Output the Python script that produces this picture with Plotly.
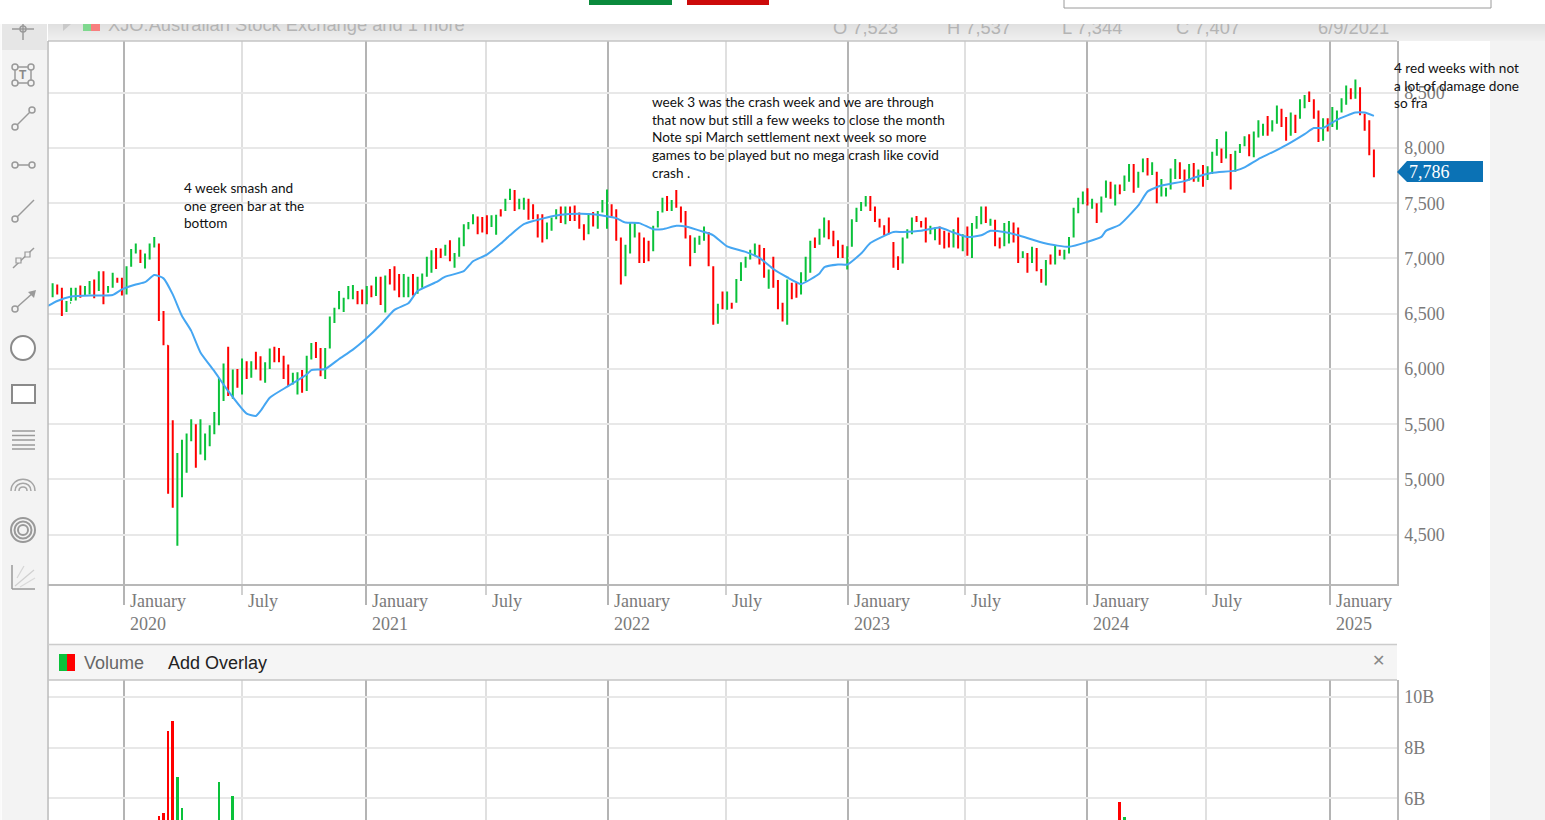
import pandas as pd
import plotly.graph_objects as go

W, H = 1545, 820

# weekly bars, XJO
first_week = "2019-09-16"
bar_high = [
    6775, 6765, 6735, 6615, 6735, 6735, 6755, 6750, 6795, 6810, 6885, 6885, 6750, 6870, 6825, 6825, 6930, 7085, 7135, 7080,
    7045, 7135, 7195, 7135, 6525, 6215, 5535, 5240, 5360, 5415, 5545, 5500, 5545, 5415, 5490, 5610, 5920, 6050, 6200, 5995,
    6000, 6095, 6070, 6070, 6155, 6115, 6060, 6185, 6200, 6190, 6120, 6040, 5965, 5970, 5990, 6120, 6235, 6245, 6190, 6190,
    6475, 6555, 6705, 6645, 6750, 6760, 6705, 6720, 6750,
    6755, 6835, 6835, 6845, 6905, 6930, 6860, 6860, 6835, 6860, 6835, 6865, 7015, 7075, 7095, 7090, 7125, 7165, 7050, 7190,
    7310, 7330, 7400, 7380, 7375, 7390, 7390, 7395, 7445, 7540, 7630, 7620, 7540, 7550, 7540, 7490, 7400, 7400, 7325, 7370,
    7445, 7470, 7470, 7470, 7480, 7415, 7310, 7410, 7420, 7430, 7530, 7625, 7490, 7445, 7190, 7125, 7330, 7330, 7235, 7190,
    7160, 7295, 7430, 7550, 7565, 7530, 7620, 7470, 7430, 7210, 7190, 7205, 7290, 7240, 6930, 6590, 6700, 6700,
    6600, 6815, 6965, 7015, 7080, 7135, 7125, 7095, 6900, 7015, 6805, 6600, 6810, 6780, 6780, 6875, 7015, 7160, 7190, 7270,
    7370, 7345, 7250, 7165, 7125, 7110, 7355, 7460, 7510, 7565, 7565, 7470, 7360, 7300, 7370, 7150, 7020, 7190, 7265, 7370,
    7385, 7340, 7370, 7295, 7280, 7290, 7250, 7235, 7265, 7370, 7220, 7290, 7320, 7385, 7470, 7470, 7360, 7350, 7190, 7320,
    7340, 7325, 7280, 7065, 7050, 7105, 7095, 6905, 6985, 7035, 7120, 7080, 7080,
    7195, 7460, 7550, 7605, 7635, 7540, 7500, 7560, 7705, 7695, 7670, 7670, 7750, 7855, 7855, 7785, 7905, 7910, 7870, 7785,
    7720, 7640, 7815, 7900, 7870, 7805, 7855, 7865, 7805, 7845, 7835, 7965, 8080, 7995, 8150, 7945, 7975, 8035, 8105, 8125,
    8150, 8250, 8220, 8290, 8250, 8385, 8355, 8280, 8320, 8300, 8440, 8480, 8510, 8440, 8340, 8270, 8270, 8370, 8340, 8450,
    8565, 8540, 8620, 8550, 8310, 8250, 7985,
]
bar_low = [
    6650, 6675, 6480, 6515, 6615, 6620, 6645, 6660, 6675, 6640, 6705, 6585, 6690, 6735, 6780, 6665, 6675, 6925, 7045, 6960,
    6910, 6990, 7100, 6435, 6215, 4870, 4745, 4400, 4840, 5060, 5345, 5105, 5225, 5175, 5300, 5410, 5490, 5710, 5755, 5730,
    5830, 5770, 5910, 5920, 5995, 5895, 5875, 6000, 6060, 6060, 5910, 5845, 5860, 5770, 5785, 5800, 6085, 6100, 5935, 5910,
    6185, 6415, 6540, 6515, 6630, 6630, 6585, 6585, 6585,
    6650, 6660, 6580, 6510, 6765, 6710, 6650, 6650, 6650, 6665, 6680, 6735, 6835, 6870, 6905, 7005, 7025, 6975, 6915, 7015,
    7110, 7265, 7310, 7220, 7235, 7220, 7285, 7215, 7380, 7430, 7530, 7430, 7445, 7440, 7350, 7355, 7190, 7145, 7175, 7250,
    7355, 7320, 7310, 7340, 7340, 7270, 7165, 7220, 7290, 7270, 7415, 7270, 7380, 7160, 6765, 6840, 7045, 7190, 6960, 6960,
    6975, 7065, 7280, 7415, 7430, 7430, 7460, 7325, 7180, 6930, 7050, 7125, 7160, 6930, 6400, 6410, 6540, 6535,
    6545, 6600, 6795, 6915, 6990, 7020, 6945, 6825, 6725, 6735, 6540, 6430, 6400, 6630, 6645, 6675, 6795, 6870, 7095, 7125,
    7190, 7175, 7110, 7005, 7005, 6900, 7105, 7330, 7430, 7470, 7430, 7330, 7280, 7210, 7220, 6915, 6895, 6955, 7180, 7220,
    7330, 7280, 7145, 7220, 7165, 7125, 7090, 7100, 7100, 7090, 7065, 7025, 7005, 7270, 7310, 7320, 7295, 7110, 7090, 7110,
    7135, 7145, 6960, 7005, 6870, 6960, 6885, 6780, 6755, 6945, 6945, 7025, 6990,
    7045, 7190, 7410, 7490, 7480, 7450, 7320, 7415, 7550, 7540, 7480, 7580, 7610, 7695, 7595, 7640, 7780, 7750, 7755, 7500,
    7560, 7560, 7625, 7720, 7720, 7595, 7705, 7695, 7695, 7650, 7710, 7765, 7930, 7865, 7905, 7625, 7785, 7955, 8015, 7925,
    7915, 8095, 8110, 8110, 8150, 8220, 8190, 8065, 8110, 8135, 8265, 8360, 8415, 8265, 8055, 8065, 8150, 8190, 8165, 8320,
    8390, 8440, 8445, 8295, 8155, 7935, 7735,
]
bar_open = [
    6680, 6745, 6700, 6530, 6600, 6650, 6720, 6670, 6700, 6770, 6720, 6850, 6700, 6745, 6815, 6790, 6700, 6935, 7060, 7070,
    6980, 7010, 7110, 7120, 6500, 6210, 5520, 4780, 4860, 5090, 5380, 5480, 5250, 5200, 5320, 5440, 5510, 5740, 6000, 5790,
    5970, 5800, 6040, 5940, 6120, 6090, 5900, 6020, 6170, 6160, 6100, 6010, 5880, 5800, 5960, 5820, 6100, 6220, 6160, 5940,
    6200, 6430, 6560, 6535, 6650, 6650, 6680, 6695, 6610,
    6730, 6680, 6810, 6540, 6880, 6905, 6835, 6670, 6680, 6835, 6700, 6750, 6850, 6900, 7070, 7070, 7040, 7140, 6940, 7030,
    7130, 7275, 7320, 7360, 7350, 7370, 7300, 7240, 7430, 7440, 7540, 7600, 7460, 7455, 7520, 7470, 7380, 7380, 7195, 7270,
    7370, 7450, 7330, 7450, 7460, 7395, 7290, 7240, 7400, 7290, 7430, 7300, 7470, 7420, 7170, 6870, 7070, 7210, 7210, 7170,
    7140, 7085, 7300, 7430, 7540, 7450, 7600, 7450, 7410, 7190, 7070, 7140, 7175, 7220, 6915, 6430, 6680, 6560,
    6590, 6615, 6810, 6930, 7005, 7035, 7105, 7075, 6745, 6995, 6785, 6580, 6425, 6760, 6760, 6695, 6815, 6890, 7170, 7145,
    7210, 7325, 7230, 7145, 7105, 6925, 7125, 7345, 7445, 7485, 7545, 7450, 7345, 7285, 7350, 7130, 7000, 6975, 7195, 7240,
    7375, 7330, 7350, 7235, 7185, 7270, 7230, 7215, 7120, 7350, 7085, 7270, 7025, 7285, 7330, 7450, 7310, 7330, 7175, 7130,
    7155, 7305, 7260, 7020, 7030, 6980, 7075, 6890, 6775, 7020, 6965, 7070, 7005,
    7060, 7210, 7430, 7510, 7615, 7465, 7480, 7435, 7565, 7675, 7500, 7655, 7630, 7715, 7835, 7660, 7800, 7890, 7775, 7765,
    7580, 7575, 7645, 7740, 7850, 7785, 7725, 7845, 7715, 7825, 7730, 7785, 7950, 7975, 7925, 7925, 7805, 7970, 8030, 8105,
    7935, 8115, 8130, 8270, 8165, 8240, 8335, 8260, 8130, 8280, 8285, 8380, 8495, 8420, 8320, 8085, 8255, 8210, 8185, 8340,
    8410, 8525, 8465, 8530, 8295, 8230, 7960,
]
bar_close = [
    6745, 6695, 6520, 6590, 6700, 6710, 6670, 6725, 6770, 6670, 6850, 6640, 6735, 6840, 6790, 6690, 6900, 7060, 7110, 6985,
    7020, 7110, 7170, 6450, 6240, 4910, 4770, 5180, 5320, 5380, 5520, 5130, 5500, 5390, 5460, 5580, 5880, 6010, 5790, 5960,
    5860, 6060, 5940, 6040, 6020, 5920, 6030, 6160, 6090, 6090, 5940, 5870, 5940, 5950, 5810, 6090, 6210, 6130, 5950, 6170,
    6450, 6530, 6680, 6620, 6725, 6735, 6610, 6610, 6725,
    6675, 6810, 6600, 6820, 6790, 6735, 6670, 6835, 6810, 6690, 6810, 6845, 6990, 7040, 6930, 7025, 7100, 7000, 7025, 7165,
    7285, 7315, 7385, 7240, 7255, 7240, 7370, 7370, 7395, 7520, 7610, 7450, 7525, 7535, 7370, 7375, 7210, 7170, 7300, 7350,
    7430, 7340, 7450, 7360, 7365, 7290, 7185, 7385, 7310, 7410, 7510, 7500, 7400, 7180, 6860, 7090, 7300, 7305, 6980, 6985,
    7000, 7270, 7410, 7530, 7450, 7510, 7480, 7345, 7200, 6950, 7170, 7190, 7270, 6950, 6430, 6565, 6560, 6680,
    6560, 6795, 6945, 7000, 7065, 7120, 6965, 6845, 6880, 6755, 6560, 6450, 6790, 6650, 6665, 6855, 6995, 7140, 7115, 7250,
    7350, 7195, 7130, 7025, 7025, 7090, 7335, 7440, 7495, 7550, 7450, 7350, 7295, 7225, 7240, 6935, 6915, 7170, 7250, 7350,
    7340, 7290, 7165, 7280, 7260, 7145, 7110, 7120, 7245, 7110, 7200, 7045, 7300, 7370, 7450, 7340, 7345, 7130, 7110, 7300,
    7320, 7165, 6980, 7050, 6890, 7085, 6905, 6800, 6965, 6960, 7100, 7040, 7065,
    7175, 7440, 7530, 7590, 7500, 7525, 7340, 7540, 7685, 7560, 7650, 7600, 7730, 7835, 7615, 7765, 7885, 7770, 7850, 7520,
    7700, 7625, 7795, 7880, 7740, 7615, 7835, 7715, 7785, 7670, 7815, 7945, 8060, 7885, 8130, 7645, 7955, 8020, 8090, 7945,
    8130, 8230, 8200, 8130, 8235, 8365, 8210, 8085, 8300, 8155, 8420, 8460, 8430, 8285, 8075, 8250, 8170, 8350, 8320, 8430,
    8545, 8455, 8600, 8315, 8175, 7955, 7786,
]

# moving average, read at these week numbers
ma_week = [
    -1, 1, 4, 9, 13, 15, 18, 20, 22, 24, 26, 28, 30, 32, 35, 38, 42, 44, 45, 47, 51, 55, 56, 59, 62, 65, 68,
    71, 74, 77, 79, 83, 85, 89, 91, 94, 97, 99, 102, 107, 110, 114, 117, 122, 124, 127, 130, 132, 135, 137, 141, 143, 146,
    150, 153, 156, 159, 162, 166, 167, 170, 172, 175, 177, 180, 182, 184, 188, 192, 195, 198, 201, 203, 206, 209, 215, 220,
    224, 227, 228, 231, 235, 237, 240, 245, 247, 251, 256, 258, 261, 264, 267, 271, 273, 275, 278, 282, 284, 286,
]
ma_value = [
    6570, 6615, 6655, 6665, 6670, 6720, 6765, 6785, 6850, 6820, 6675, 6480, 6345, 6150, 5980, 5800, 5595, 5575, 5620, 5740, 5845, 5950, 5990, 6000, 6090, 6175, 6280,
    6400, 6535, 6595, 6705, 6785, 6835, 6885, 6975, 7035, 7135, 7210, 7310, 7370, 7395, 7405, 7400, 7365, 7325, 7320, 7265, 7265, 7295, 7290, 7240, 7210, 7110,
    7060, 7005, 6905, 6830, 6770, 6865, 6920, 6945, 6945, 7045, 7140, 7205, 7240, 7240, 7250, 7280, 7235, 7195, 7210, 7250, 7240, 7210, 7135, 7105,
    7150, 7195, 7250, 7305, 7480, 7605, 7660, 7700, 7730, 7775, 7795, 7825, 7900, 7960, 8025, 8125, 8180, 8180, 8255, 8320, 8320, 8290,
]

# volume, only the weeks that reach the visible part of the pane
vol_week = [23, 24, 25, 26, 27, 28, 36, 39, 231, 232]
vol_value = [5.32e9, 5.44e9, 8.67e9, 9.07e9, 6.86e9, 5.64e9, 6.66e9, 6.11e9, 5.86e9, 5.27e9]

year_ticks = ["2020-01-02", "2021-01-03", "2022-01-05", "2023-01-03", "2024-01-01", "2025-01-03"]
year_names = ["2020", "2021", "2022", "2023", "2024", "2025"]
july_ticks = ["2020-06-29", "2021-07-03", "2022-07-02", "2023-06-29", "2024-06-28"]
price_ticks = [4500, 5000, 5500, 6000, 6500, 7000, 7500, 8000, 8500]
vol_ticks = [6e9, 8e9, 10e9]
vol_tick_text = ["6B", "8B", "10B"]

header_text = ["XJO:Australian Stock Exchange and 1 more", "O 7,523", "H 7,537", "L 7,344", "C 7,407", "6/9/2021"]
header_x = [108, 833, 947, 1062, 1176, 1318]

note_smash = "4 week smash and<br>one green bar at the<br>bottom"
note_week3 = ("week 3 was the crash week and we are through<br>that now but still a few weeks to close the month<br>"
              "Note spi March settlement next week so more<br>games to be played but no mega crash like covid<br>crash .")
note_red = "4 red weeks with not<br>a lot of damage done<br>so fra"

GREEN = "#0ac13a"
RED = "#ff0000"
BLUE = "#45a6f2"
SERIF = "Liberation Serif"
SANS = "Liberation Sans"


def px(x):
    return x / W


def py(y):
    return 1 - y / H


shapes = []


def rect(x0, y0, x1, y1, fill, line=None, lw=0, layer="below"):
    shapes.append(dict(type="rect", xref="paper", yref="paper", x0=px(x0), x1=px(x1), y0=py(y1), y1=py(y0),
                       fillcolor=fill, line=dict(color=line or fill, width=lw), layer=layer))


def seg(x0, y0, x1, y1, color="#9a9a9a", lw=1.5):
    shapes.append(dict(type="line", xref="paper", yref="paper", x0=px(x0), x1=px(x1), y0=py(y0), y1=py(y1),
                       line=dict(color=color, width=lw), layer="above"))


def ring(cx, cy, r, color="#9a9a9a", lw=1.5, fill="rgba(0,0,0,0)"):
    shapes.append(dict(type="circle", xref="paper", yref="paper", x0=px(cx - r), x1=px(cx + r), y0=py(cy + r), y1=py(cy - r),
                       line=dict(color=color, width=lw), fillcolor=fill, layer="above"))


def poly(points, fill, close=True):
    d = "M" + " L".join(f"{px(a):.5f},{py(b):.5f}" for a, b in points) + (" Z" if close else "")
    shapes.append(dict(type="path", xref="paper", yref="paper", path=d, fillcolor=fill, line=dict(width=0), layer="above"))


# page furniture
rect(2, 24, 47, 820, "#f3f3f3")
rect(0, 24, 1.5, 820, "#fafafa")
rect(1490, 24, 1545, 820, "#f3f3f3")
rect(2, 24, 47, 50, "#e6e6e6")
for k in range(17):
    g = 224 + k
    rect(48, 24 + k, 1545, 25 + k, f"rgb({g},{g},{g})")
rect(1064, -2, 1491, 8, "#ffffff", "#9a9a9a", 1)
rect(589, 0, 672, 5, "#0a8a3c", layer="above")
rect(687, 0, 769, 5, "#cc0a0a", layer="above")
rect(83, 24, 91, 31, "#7fd88f")
rect(91, 24, 100, 31, "#f77f7f")
poly([(63, 24), (71, 24), (63, 31)], "#c9c9c9")

# frame around the panes
seg(48, 41, 1397, 41, "#c4c4c4", 1.5)
seg(48, 41, 48, 820, "#b8b8b8", 1.5)
seg(48, 644.5, 1397, 644.5, "#cccccc", 1.5)
seg(48, 680, 1397, 680, "#c4c4c4", 1.5)
rect(48, 645, 1397, 680, "#f5f5f5")
rect(59, 654, 67, 671, "#0ac13a", layer="above")
rect(67, 654, 75, 671, RED, layer="above")

# price tag
poly([(1397, 172), (1407, 161), (1483, 161), (1483, 182), (1407, 182)], "#0b72b5")

# toolbar icons
seg(12, 29, 34, 29)
seg(23, 24, 23, 40)
ring(23, 29, 3)
seg(15, 67, 31, 67)
seg(15, 83, 31, 83)
seg(15, 67, 15, 83)
seg(31, 67, 31, 83)
for cx, cy in [(15, 67), (31, 67), (15, 83), (31, 83)]:
    ring(cx, cy, 3, fill="#f3f3f3")
seg(15, 127, 32, 110)
ring(15, 127, 3, fill="#f3f3f3")
ring(32, 110, 3, fill="#f3f3f3")
seg(15, 165, 32, 165)
ring(15, 165, 3, fill="#f3f3f3")
ring(32, 165, 3, fill="#f3f3f3")
seg(15, 219, 34, 200)
ring(15, 219, 3, fill="#f3f3f3")
seg(13, 268, 34, 248)
rect(16, 258, 21, 263, "#f3f3f3", "#9a9a9a", 1.2, layer="above")
rect(25, 252, 30, 257, "#f3f3f3", "#9a9a9a", 1.2, layer="above")
seg(15, 309, 34, 292)
ring(15, 309, 3, fill="#f3f3f3")
poly([(36, 290), (28, 292), (34, 298)], "#9a9a9a")
ring(23, 348, 12, "#8a8a8a", 2, "#ffffff")
rect(12, 385, 35, 403, "#ffffff", "#8a8a8a", 2, layer="above")
for yy in [431, 435.5, 440, 445, 449]:
    seg(12, yy, 35, yy)
for r in [12, 8, 4]:
    shapes.append(dict(type="path", xref="paper", yref="paper", layer="above", line=dict(color="#a5a5a5", width=1.5),
                       path=f"M{px(23 - r):.5f},{py(491):.5f} C{px(23 - r):.5f},{py(491 - r * 1.3):.5f} {px(23 + r):.5f},{py(491 - r * 1.3):.5f} {px(23 + r):.5f},{py(491):.5f}"))
for r in [12, 8.5, 5]:
    ring(23, 530, r, "#999999", 2)
seg(12, 565, 12, 589, "#9a9a9a", 1.5)
seg(12, 589, 35, 589, "#9a9a9a", 1.5)
seg(15, 586, 34, 570, "#d0d0d0", 1.2)
seg(17, 578, 24, 566, "#d5d5d5", 1.2)
seg(20, 587, 35, 578, "#dadada", 1.2)

bar_dates = pd.date_range(first_week, periods=len(bar_high), freq="7D")
ma_dates = pd.Timestamp(first_week) + pd.to_timedelta(ma_week, unit="W")
vol_dates = [bar_dates[k] for k in vol_week]
vol_colors = [GREEN if bar_close[k] >= bar_open[k] else RED for k in vol_week]

fig = go.Figure()
fig.add_trace(go.Ohlc(x=bar_dates, open=bar_open, high=bar_high, low=bar_low, close=bar_close, tickwidth=0.2,
                      increasing=dict(line=dict(color=GREEN, width=2)),
                      decreasing=dict(line=dict(color=RED, width=2)),
                      xaxis="x", yaxis="y", showlegend=False))
fig.add_trace(go.Scatter(x=ma_dates, y=ma_value, mode="lines", line=dict(color=BLUE, width=2, shape="spline", smoothing=0.5),
                         xaxis="x", yaxis="y", showlegend=False))
fig.add_trace(go.Bar(x=vol_dates, y=vol_value, marker=dict(color=vol_colors, line=dict(width=0)), width=3.6e8,
                     xaxis="x2", yaxis="y2", showlegend=False))
# greyed header under the page's top band, cut off by its own little axis
fig.add_trace(go.Scatter(x=header_x, y=[36, 39, 39, 39, 39, 39], mode="text", text=header_text, textposition="top right",
                         textfont=dict(family=SANS, size=18.3, color="#b4b4b4"), xaxis="x3", yaxis="y3", showlegend=False))

x_range = ["2019-09-09", "2025-04-14"]
grid_x = dict(range=x_range, type="date", tickvals=year_ticks, showticklabels=False, showgrid=True, gridcolor="#b4b4b4",
              gridwidth=2, zeroline=False)
july_minor = dict(tickvals=july_ticks, showgrid=True, gridcolor="#e0e0e0", gridwidth=2)

annos = []
for tick, name in zip(year_ticks, year_names):
    annos.append(dict(x=tick, xref="x", xshift=4, y=py(589), yref="paper", xanchor="left", yanchor="top", align="left",
                      text=f"January<br>{name}", showarrow=False, font=dict(family=SERIF, size=18, color="#7a7a7a")))
for tick in july_ticks:
    annos.append(dict(x=tick, xref="x", xshift=4, y=py(589), yref="paper", xanchor="left", yanchor="top",
                      text="July", showarrow=False, font=dict(family=SERIF, size=18, color="#7a7a7a")))
for text, left, top in [(note_smash, 183, 179.5), (note_week3, 651, 92.5), (note_red, 1393, 59.5)]:
    annos.append(dict(x=px(left), y=py(top), xref="paper", yref="paper", xanchor="left", yanchor="top", align="left",
                      text=text, showarrow=False, borderpad=0, font=dict(family="Lato", size=13.6, color="#111111")))
annos.append(dict(x=px(1408), y=py(172), xref="paper", yref="paper", xanchor="left", yanchor="middle", text="7,786", showarrow=False,
                  borderpad=0, font=dict(family=SERIF, size=18, color="#ffffff")))
annos.append(dict(x=px(83), y=py(663), xref="paper", yref="paper", xanchor="left", yanchor="middle", text="Volume", showarrow=False,
                  borderpad=0, font=dict(family=SANS, size=18, color="#666666")))
annos.append(dict(x=px(167), y=py(663), xref="paper", yref="paper", xanchor="left", yanchor="middle", text="Add Overlay", showarrow=False,
                  borderpad=0, font=dict(family=SANS, size=18, color="#222222")))
annos.append(dict(x=px(1378), y=py(660), xref="paper", yref="paper", xanchor="center", yanchor="middle", text="✕", showarrow=False,
                  font=dict(family="DejaVu Sans", size=16, color="#888888")))
annos.append(dict(x=px(23), y=py(75), xref="paper", yref="paper", xanchor="center", yanchor="middle", text="<b>T</b>", showarrow=False,
                  font=dict(family=SANS, size=12, color="#8a8a8a")))

fig.update_layout(
    width=W, height=H, autosize=False, margin=dict(l=0, r=0, t=0, b=0),
    paper_bgcolor="#ffffff", plot_bgcolor="rgba(0,0,0,0)", showlegend=False,
    shapes=shapes, annotations=annos, hovermode=False, bargap=0,
    xaxis=dict(grid_x, domain=[px(48), px(1397)], anchor="y", rangeslider=dict(visible=False), ticks="outside", ticklen=19,
               tickcolor="#b4b4b4", tickwidth=2, showline=True, linecolor="#b8b8b8", linewidth=2,
               minor=dict(july_minor, ticks="outside", ticklen=9, tickcolor="#d0d0d0", tickwidth=2)),
    yaxis=dict(domain=[py(584), py(41)], anchor="x", range=[4054, 8968], side="right", tickvals=price_ticks, tickformat=",",
               showgrid=True, gridcolor="#e8e8e8", gridwidth=2, zeroline=False, showline=True, linecolor="#b8b8b8", linewidth=1.5,
               ticks="outside", ticklen=2, tickcolor="rgba(0,0,0,0)", tickfont=dict(family=SERIF, size=18, color="#7a7a7a")),
    xaxis2=dict(grid_x, domain=[px(48), px(1397)], anchor="y2", minor=july_minor),
    yaxis2=dict(domain=[0, py(680)], anchor="x2", range=[5.15e9, 10.67e9], side="right", tickvals=vol_ticks, ticktext=vol_tick_text,
                showgrid=True, gridcolor="#e8e8e8", gridwidth=2, zeroline=False, showline=True, linecolor="#b8b8b8", linewidth=1.5,
                ticks="outside", ticklen=2, tickcolor="rgba(0,0,0,0)", tickfont=dict(family=SERIF, size=18, color="#7a7a7a")),
    xaxis3=dict(domain=[px(48), px(1397)], anchor="y3", range=[48, 1397], visible=False),
    yaxis3=dict(domain=[py(41), py(24)], anchor="x3", range=[41, 24], visible=False),
)

fig.write_html("out.html", config={"displayModeBar": False},
               post_script="document.body.style.margin='0';document.body.style.overflow='hidden';")
